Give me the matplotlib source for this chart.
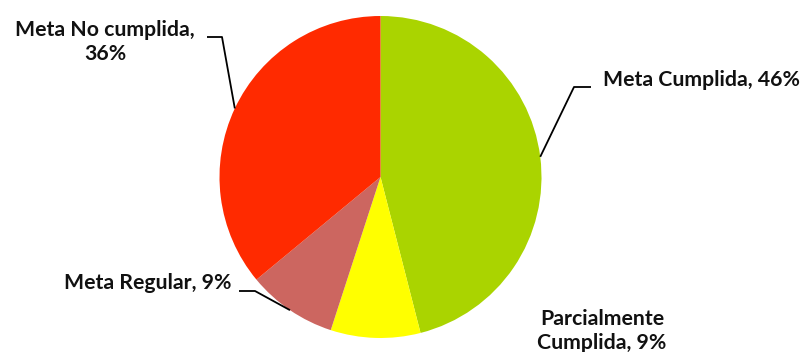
import numpy as np
import matplotlib

matplotlib.use("Agg")
import matplotlib.pyplot as plt

# chart data
categories = ["Meta Cumplida", "Parcialmente\nCumplida", "Meta Regular", "Meta No cumplida"]
shares = [46, 9, 9, 36]
colors = ["#AAD400", "#FFFF00", "#CC6660", "#FF2A00"]

plt.rcParams["font.family"] = ["Lato", "DejaVu Sans"]

W, H = 810, 352
fig = plt.figure(figsize=(W / 100, H / 100), dpi=100)
ax = fig.add_axes([0, 0, 1, 1])

cx, cy, r = 380.5, H - 177, 161
wedges, _ = ax.pie(shares, colors=colors, startangle=90, counterclock=False,
                   center=(cx, cy), radius=r, frame=True,
                   wedgeprops=dict(linewidth=0))
ax.set_xlim(0, W)
ax.set_ylim(0, H)
ax.set_aspect("equal")
ax.axis("off")

labels = [f"{c}, {v}%" for c, v in zip(categories, shares)]
labels[3] = "Meta No cumplida,\n36%"

# label layout: (text x, text y, ha, elbow, line end) in pixel coords (y from top)
layout = [
    (603, 80, "left", (574, 87), (591, 87)),
    (602, 331, "center", None, None),
    (232, 283, "right", (255, 291), (239, 291)),
    (105, 42, "center", (222, 37), (207, 37)),
]

for w, lab, (tx, ty, ha, elbow, end) in zip(wedges, labels, layout):
    mid = np.deg2rad((w.theta1 + w.theta2) / 2)
    ax.text(tx, H - ty, lab, ha=ha, va="center", fontsize=15.3,
            fontweight="bold", color="#111111", linespacing=1.3)
    if elbow is not None:
        px, py = cx + r * np.cos(mid), cy + r * np.sin(mid)
        ax.plot([px, elbow[0], end[0]], [py, H - elbow[1], H - end[1]],
                color="black", lw=1.3, solid_capstyle="butt")

fig.savefig("out.png", dpi=100)
